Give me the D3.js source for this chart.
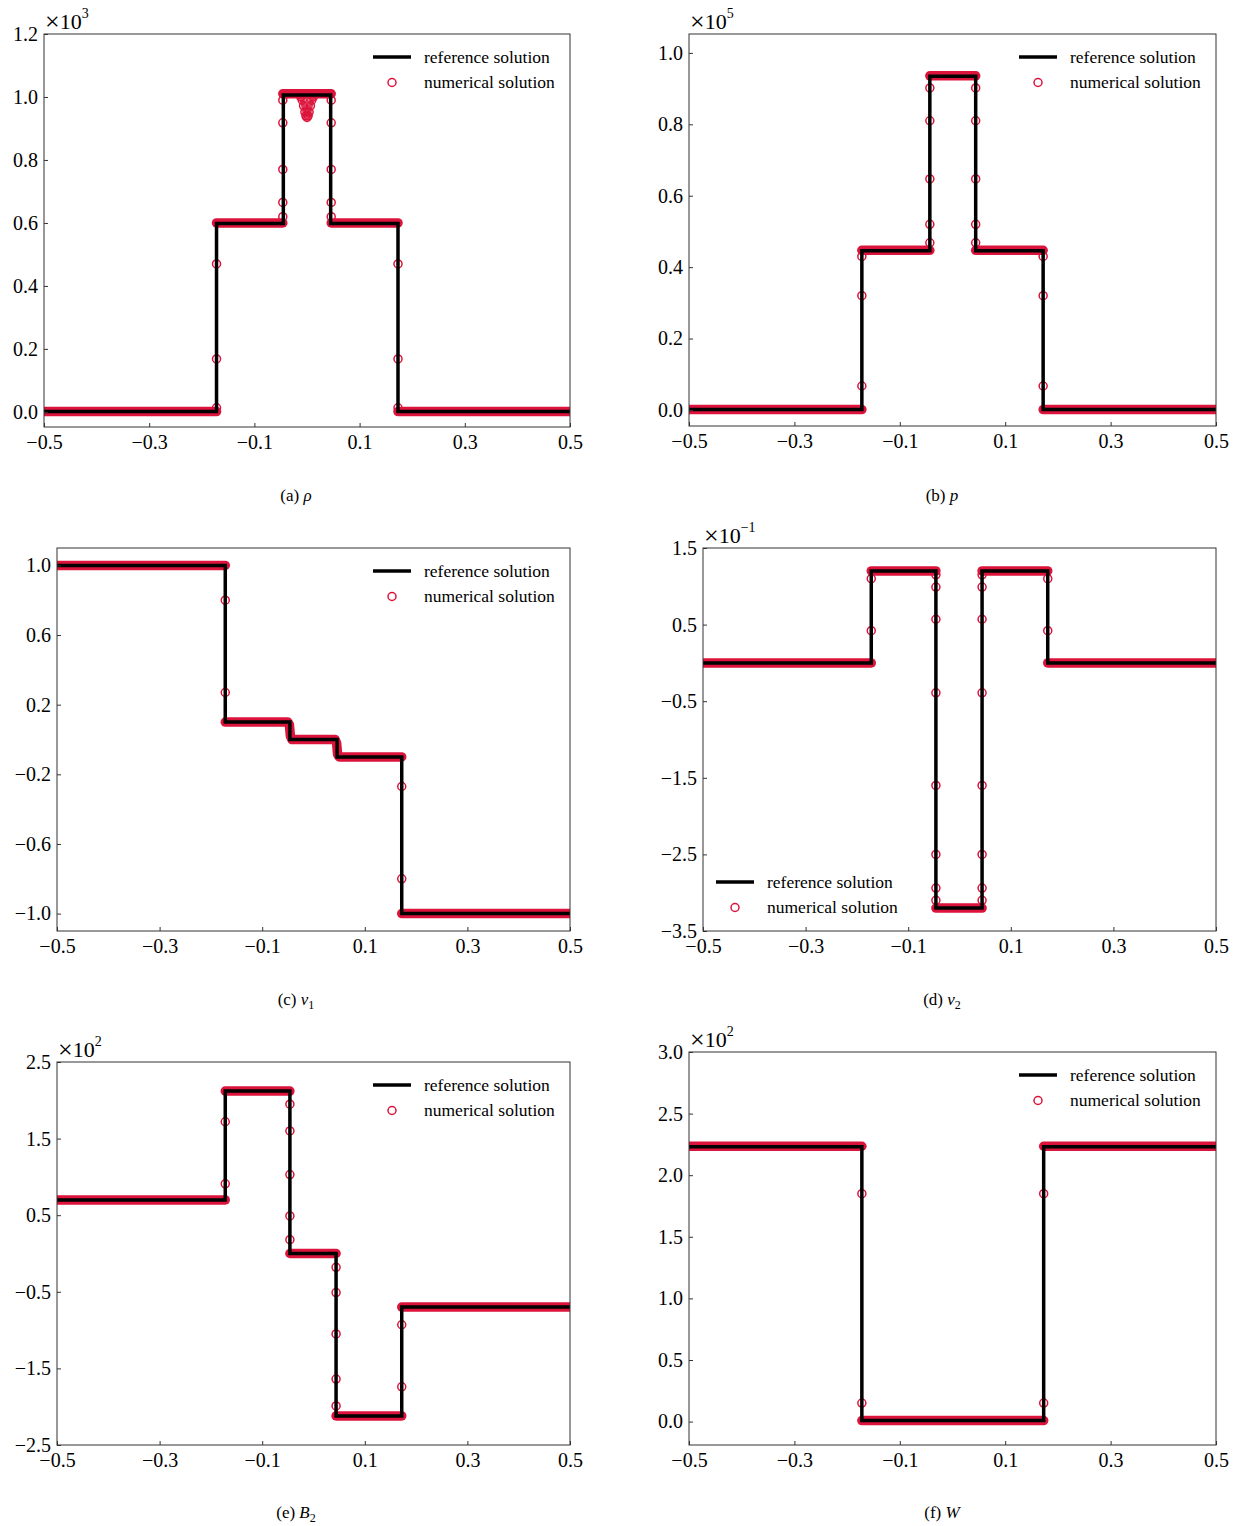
<!DOCTYPE html>
<html><head><meta charset="utf-8">
<script src="https://cdn.jsdelivr.net/npm/d3@7"></script>
<style>
body{margin:0;background:#fff}
text{font-family:"Liberation Serif","Times New Roman",serif;fill:#000}
</style>
</head><body>
<svg id="chart" width="1249" height="1526"></svg>
<script>
// ---------------- DATA ----------------
const xTicks = [-0.5, -0.3, -0.1, 0.1, 0.3, 0.5];

// (a) rho  (x10^3)
const rhoRefX = [-0.5, -0.172, -0.045, 0.045, 0.173, 0.5];
const rhoRefY = [0.001, 0.598, 1.006, 0.598, 0.001, 0.001];
const rhoBands = [
  [[-0.5, 0.001], [-0.172, 0.001]],
  [[-0.172, 0.6], [-0.046, 0.6]],
  [[-0.046, 1.01], [0.046, 1.01]],
  [[0.046, 0.6], [0.173, 0.6]],
  [[0.173, 0.001], [0.5, 0.001]]
];
// narrow dip of the numerical density at the centre
const rhoDipX = [-0.012, -0.009, -0.0065, -0.004, -0.002, 0, 0.002, 0.004, 0.0065, 0.009, 0.012];
const rhoDipY = [1.0, 0.99, 0.972, 0.952, 0.94, 0.935, 0.94, 0.952, 0.972, 0.99, 1.0];
const rhoPtsX = [-0.172, -0.172, -0.172, -0.046, -0.046, -0.046, -0.046, -0.046, 0.046, 0.046, 0.046, 0.046, 0.046, 0.173, 0.173, 0.173];
const rhoPtsY = [0.013, 0.168, 0.47, 0.62, 0.665, 0.77, 0.918, 0.99, 0.62, 0.665, 0.77, 0.918, 0.99, 0.013, 0.168, 0.47];

// (b) p  (x10^5)
const pRefX = [-0.5, -0.172, -0.043, 0.044, 0.172, 0.5];
const pRefY = [0.001, 0.446, 0.935, 0.446, 0.001, 0.001];
const pBands = [
  [[-0.5, 0.001], [-0.172, 0.001]],
  [[-0.172, 0.447], [-0.043, 0.447]],
  [[-0.043, 0.936], [0.044, 0.936]],
  [[0.044, 0.447], [0.172, 0.447]],
  [[0.172, 0.001], [0.5, 0.001]]
];
const pPtsX = [-0.172, -0.172, -0.172, -0.043, -0.043, -0.043, -0.043, -0.043, 0.044, 0.044, 0.044, 0.044, 0.044, 0.172, 0.172, 0.172];
const pPtsY = [0.067, 0.32, 0.43, 0.468, 0.52, 0.647, 0.81, 0.902, 0.468, 0.52, 0.647, 0.81, 0.902, 0.43, 0.32, 0.067];

// (c) v1
const v1RefX = [-0.5, -0.172, -0.046, 0.046, 0.172, 0.5];
const v1RefY = [1.0, 0.1, 0.0, -0.1, -1.0, -1.0];
const v1Bands = [
  [[-0.5, 1.0], [-0.172, 1.0]],
  [[-0.172, 0.1], [-0.05, 0.1], [-0.047, 0.085], [-0.045, 0.02], [-0.042, 0.0], [0.042, 0.0], [0.045, -0.02], [0.047, -0.085], [0.05, -0.1], [0.172, -0.1]],
  [[0.172, -1.0], [0.5, -1.0]]
];
const v1PtsX = [-0.172, -0.172, 0.172, 0.172];
const v1PtsY = [0.8, 0.27, -0.27, -0.8];

// (d) v2  (x10^-1)
const v2RefX = [-0.5, -0.172, -0.046, 0.044, 0.172, 0.5];
const v2RefY = [0.0, 1.2, -3.2, 1.2, 0.0, 0.0];
const v2Bands = [
  [[-0.5, 0.0], [-0.172, 0.0]],
  [[-0.172, 1.2], [-0.046, 1.2]],
  [[-0.046, -3.2], [0.044, -3.2]],
  [[0.044, 1.2], [0.172, 1.2]],
  [[0.172, 0.0], [0.5, 0.0]]
];
const v2PtsX = [-0.172, -0.172, -0.046, -0.046, -0.046, -0.046, -0.046, -0.046, -0.046, -0.046, 0.044, 0.044, 0.044, 0.044, 0.044, 0.044, 0.044, 0.044, 0.172, 0.172];
const v2PtsY = [0.42, 1.1, 1.15, 0.99, 0.57, -0.39, -1.6, -2.5, -2.94, -3.1, 1.15, 0.99, 0.57, -0.39, -1.6, -2.5, -2.94, -3.1, 1.1, 0.42];

// (e) B2  (x10^2)
const b2RefX = [-0.5, -0.172, -0.046, 0.044, 0.172, 0.5];
const b2RefY = [0.7, 2.12, 0.0, -2.12, -0.7, -0.7];
const b2Bands = [
  [[-0.5, 0.7], [-0.172, 0.7]],
  [[-0.172, 2.12], [-0.046, 2.12]],
  [[-0.046, 0.0], [0.044, 0.0]],
  [[0.044, -2.12], [0.172, -2.12]],
  [[0.172, -0.7], [0.5, -0.7]]
];
const b2PtsX = [-0.172, -0.172, -0.046, -0.046, -0.046, -0.046, -0.046, 0.044, 0.044, 0.044, 0.044, 0.044, 0.172, 0.172];
const b2PtsY = [0.91, 1.72, 1.95, 1.6, 1.03, 0.49, 0.18, -0.18, -0.51, -1.05, -1.64, -1.99, -1.74, -0.93];

// (f) W  (x10^2)
const wRefX = [-0.5, -0.172, 0.173, 0.5];
const wRefY = [2.23, 0.008, 2.23, 2.23];
const wBands = [
  [[-0.5, 2.235], [-0.172, 2.235]],
  [[-0.172, 0.008], [0.173, 0.008]],
  [[0.173, 2.235], [0.5, 2.235]]
];
const wPtsX = [-0.172, -0.172, 0.173, 0.173];
const wPtsY = [1.85, 0.15, 1.85, 0.15];

// y ticks
const rhoTicks = [0.0, 0.2, 0.4, 0.6, 0.8, 1.0, 1.2];
const pTicks = [0.0, 0.2, 0.4, 0.6, 0.8, 1.0];
const v1Ticks = [-1.0, -0.6, -0.2, 0.2, 0.6, 1.0];
const v2Ticks = [-3.5, -2.5, -1.5, -0.5, 0.5, 1.5];
const b2Ticks = [-2.5, -1.5, -0.5, 0.5, 1.5, 2.5];
const wTicks = [0.0, 0.5, 1.0, 1.5, 2.0, 2.5, 3.0];

const legendLabels = ["reference solution", "numerical solution"];

// ---------------- LAYOUT ----------------
const panels = [
  {refX: rhoRefX, refY: rhoRefY, bands: rhoBands, px: rhoPtsX, py: rhoPtsY, dipX: rhoDipX, dipY: rhoDipY, ticks: rhoTicks,
   box: [44, 570, 34, 427], ydom: [-0.048, 1.2], exp: "3", cap: ["(a) ", "ρ", ""], capX: 296, capY: 501, leg: "tr"},
  {refX: pRefX, refY: pRefY, bands: pBands, px: pPtsX, py: pPtsY, ticks: pTicks,
   box: [689, 1216, 34, 426], ydom: [-0.045, 1.053], exp: "5", cap: ["(b) ", "p", ""], capX: 942, capY: 501, leg: "tr"},
  {refX: v1RefX, refY: v1RefY, bands: v1Bands, px: v1PtsX, py: v1PtsY, ticks: v1Ticks,
   box: [57, 570, 548, 931], ydom: [-1.1, 1.1], exp: null, cap: ["(c) ", "v", "1"], capX: 296, capY: 1005, leg: "tr"},
  {refX: v2RefX, refY: v2RefY, bands: v2Bands, px: v2PtsX, py: v2PtsY, ticks: v2Ticks,
   box: [703, 1216, 548, 931], ydom: [-3.5, 1.5], exp: "−1", cap: ["(d) ", "v", "2"], capX: 942, capY: 1005, leg: "bl"},
  {refX: b2RefX, refY: b2RefY, bands: b2Bands, px: b2PtsX, py: b2PtsY, ticks: b2Ticks,
   box: [57, 570, 1062, 1445], ydom: [-2.5, 2.5], exp: "2", cap: ["(e) ", "B", "2"], capX: 296, capY: 1518, leg: "tr"},
  {refX: wRefX, refY: wRefY, bands: wBands, px: wPtsX, py: wPtsY, ticks: wTicks,
   box: [689, 1216, 1052, 1445], ydom: [-0.19, 3.0], exp: "2", cap: ["(f) ", "W", ""], capX: 942, capY: 1518, leg: "tr"}
];

const RED = "#dc143c";
const svg = d3.select("#chart");
const fmt = d3.format(".1f");

panels.forEach(P => {
  const [L, R, T, B] = P.box;
  const x = d3.scaleLinear().domain([-0.5, 0.5]).range([L, R]);
  const y = d3.scaleLinear().domain(P.ydom).range([B, T]);
  const g = svg.append("g");

  const clipId = "clip" + L + "_" + T;
  g.append("clipPath").attr("id", clipId).append("rect")
    .attr("x", L).attr("y", T).attr("width", R - L).attr("height", B - T);
  const plot = g.append("g").attr("clip-path", `url(#${clipId})`);

  const line = d3.line().x(d => x(d[0])).y(d => y(d[1]));
  // numerical solution: dense plateaus (merged circles) + isolated circles
  P.bands.forEach(b => {
    plot.append("path").attr("d", line(b)).attr("fill", "none")
      .attr("stroke", RED).attr("stroke-width", 9.5)
      .attr("stroke-linejoin", "round").attr("stroke-linecap", "round");
  });
  if (P.dipX) {
    const dip = P.dipX.map((xv, i) => [xv, P.dipY[i]]);
    plot.append("path").attr("d", line(dip)).attr("fill", "none")
      .attr("stroke", RED).attr("stroke-width", 5).attr("stroke-opacity", 0.85)
      .attr("stroke-linejoin", "round").attr("stroke-linecap", "round");
    dip.forEach(d => {
      plot.append("circle").attr("cx", x(d[0])).attr("cy", y(d[1])).attr("r", 4)
        .attr("fill", "none").attr("stroke", RED).attr("stroke-width", 1.5);
    });
  }
  P.px.forEach((xv, i) => {
    plot.append("circle").attr("cx", x(xv)).attr("cy", y(P.py[i])).attr("r", 4)
      .attr("fill", "none").attr("stroke", RED).attr("stroke-width", 1.5);
  });
  // reference solution
  const refPts = P.refX.map((xv, i) => [xv, P.refY[i]]);
  plot.append("path").attr("d", d3.line().curve(d3.curveStepAfter).x(d => x(d[0])).y(d => y(d[1]))(refPts))
    .attr("fill", "none").attr("stroke", "#000").attr("stroke-width", 3.5);

  // axes frame
  g.append("rect").attr("x", L).attr("y", T).attr("width", R - L).attr("height", B - T)
    .attr("fill", "none").attr("stroke", "#333").attr("stroke-width", 1);

  // x axis (inward ticks)
  const xa = g.append("g").attr("transform", `translate(0,${B})`)
    .call(d3.axisBottom(x).tickValues(xTicks).tickSizeInner(-4).tickSizeOuter(0).tickPadding(8)
      .tickFormat(fmt));
  xa.select(".domain").remove();
  xa.selectAll(".tick line").attr("stroke", "#333");
  xa.selectAll(".tick text").attr("font-size", 20).attr("font-family", "Liberation Serif");

  const ya = g.append("g").attr("transform", `translate(${L},0)`)
    .call(d3.axisLeft(y).tickValues(P.ticks).tickSizeInner(-4).tickSizeOuter(0).tickPadding(6)
      .tickFormat(fmt));
  ya.select(".domain").remove();
  ya.selectAll(".tick line").attr("stroke", "#333");
  ya.selectAll(".tick text").attr("font-size", 20).attr("font-family", "Liberation Serif");

  // multiplier
  if (P.exp) {
    const t = g.append("text").attr("x", L + 1).attr("y", T - 5).attr("font-size", 22);
    t.append("tspan").attr("font-size", 26).attr("dy", 1).text("×");
    t.append("tspan").attr("dy", -1).text("10");
    t.append("tspan").attr("font-size", 14).attr("dy", -11).text(P.exp);
  }

  // legend
  let lx, ly;
  if (P.leg === "tr") { lx = R - 197; ly = T + 23; } else { lx = L + 13; ly = B - 49; }
  g.append("line").attr("x1", lx).attr("x2", lx + 38).attr("y1", ly).attr("y2", ly)
    .attr("stroke", "#000").attr("stroke-width", 3.5);
  g.append("circle").attr("cx", lx + 19).attr("cy", ly + 25.5).attr("r", 4)
    .attr("fill", "none").attr("stroke", RED).attr("stroke-width", 1.5);
  legendLabels.forEach((s, i) => {
    g.append("text").attr("x", lx + 51).attr("y", ly + 25.5 * i).attr("dy", "0.32em")
      .attr("font-size", 17.5).text(s);
  });

  // caption
  const c = g.append("text").attr("x", P.capX).attr("y", P.capY).attr("text-anchor", "middle").attr("font-size", 17);
  c.append("tspan").text(P.cap[0]);
  c.append("tspan").attr("font-style", "italic").text(P.cap[1]);
  if (P.cap[2]) c.append("tspan").attr("font-size", 12).attr("dy", 4).text(P.cap[2]);
});
</script>
</body></html>
